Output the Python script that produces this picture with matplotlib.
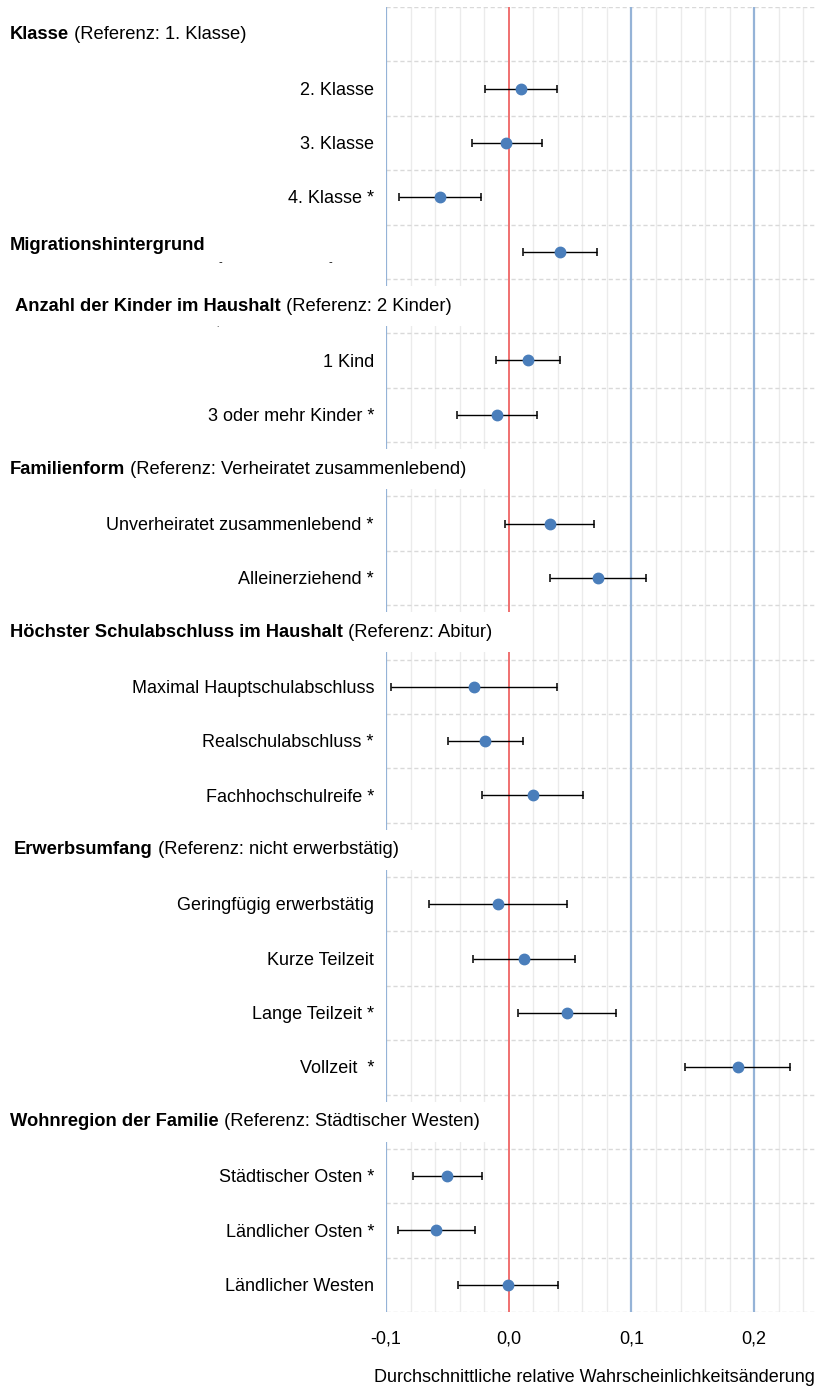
import numpy as np
import matplotlib.pyplot as plt
from matplotlib.patches import Rectangle
from matplotlib import transforms

plt.rcParams['font.family'] = ['Liberation Sans', 'DejaVu Sans']
plt.rcParams['font.size'] = 13

# Row labels (None = header row without own label text on the right)
labels = [None, "2. Klasse", "3. Klasse", "4. Klasse *", None,
          None, "1 Kind", "3 oder mehr Kinder *",
          None, "Unverheiratet zusammenlebend *", "Alleinerziehend *",
          None, "Maximal Hauptschulabschluss", "Realschulabschluss *", "Fachhochschulreife *",
          None, "Geringfügig erwerbstätig", "Kurze Teilzeit", "Lange Teilzeit *", "Vollzeit  *",
          None, "Städtischer Osten *", "Ländlicher Osten *", "Ländlicher Westen"]

nan = np.nan
estimate = [nan, 0.0098, -0.0021, -0.0556, 0.0416,
            nan, 0.0157, -0.0096,
            nan, 0.0333, 0.0727,
            nan, -0.0284, -0.0190, 0.0196,
            nan, -0.0085, 0.0124, 0.0474, 0.1868,
            nan, -0.0499, -0.0590, -0.0006]
lower = [nan, -0.0192, -0.0303, -0.0897, 0.0118,
         nan, -0.0102, -0.0424,
         nan, -0.0033, 0.0333,
         nan, -0.0959, -0.0493, -0.0220,
         nan, -0.0647, -0.0292, 0.0074, 0.1438,
         nan, -0.0782, -0.0901, -0.0416]
upper = [nan, 0.0393, 0.0269, -0.0226, 0.0716,
         nan, 0.0419, 0.0234,
         nan, 0.0697, 0.1118,
         nan, 0.0394, 0.0113, 0.0609,
         nan, 0.0479, 0.0537, 0.0873, 0.2292,
         nan, -0.0220, -0.0278, 0.0405]

# group headers: row, bold part, reference part
header_rows = [0, 4, 5, 8, 11, 15, 20]
header_bold = ["Klasse", "Migrationshintergrund", "Anzahl der Kinder im Haushalt",
               "Familienform", "Höchster Schulabschluss im Haushalt",
               "Erwerbsumfang", "Wohnregion der Familie"]
header_ref = [" (Referenz: 1. Klasse)", "", " (Referenz: 2 Kinder)",
              " (Referenz: Verheiratet zusammenlebend)", " (Referenz: Abitur)",
              " (Referenz: nicht erwerbstätig)", " (Referenz: Städtischer Westen)"]
header_x = [10, 10, 15, 10, 10, 14, 10]

major_ticks = [-0.1, 0.0, 0.1, 0.2]
blue_lines = [-0.1, 0.1, 0.2]

W, H = 816, 1395
fig = plt.figure(figsize=(W / 100, H / 100), dpi=100)
ax = fig.add_axes([386 / W, 1 - 1312 / H, (815.5 - 386) / W, (1312 - 7) / H])

n = len(labels)
y = np.arange(n) + 0.5
est = np.array(estimate)
lo = np.array(lower)
hi = np.array(upper)
ax.errorbar(est, y, xerr=[est - lo, hi - est], fmt='o', color='#4a7ebb',
            ms=7.5, ecolor='black', elinewidth=1.0, capsize=2.6, capthick=1.1,
            zorder=4)

for v in blue_lines:
    ax.axvline(v, color='#95b3d7', lw=1.6, zorder=1)
ax.axvline(0, color='#f07070', lw=1.4, zorder=1)

ax.set_xlim(-0.1, 0.25)
ax.set_ylim(n, 0)
ax.set_xticks(major_ticks)
ax.set_xticklabels([f"{v:.1f}".replace('.', ',') for v in major_ticks])
ax.set_xticks(np.arange(-0.08, 0.25, 0.02), minor=True)
ax.set_yticks(np.arange(n + 1))
ax.set_yticklabels([])
ax.tick_params(axis='both', which='both', length=0)
ax.tick_params(axis='x', pad=13, labelsize=13)
ax.set_axisbelow(True)
ax.grid(axis='x', which='minor', color='#ebebeb', lw=1, ls='-')
ax.grid(axis='y', which='major', color='#d9d9d9', lw=1, ls=(0, (3, 2)))
for s in ax.spines.values():
    s.set_visible(False)

trans = transforms.blended_transform_factory(fig.transFigure, ax.transData)
for i, lab in enumerate(labels):
    if lab is not None:
        ax.text(374 / W, i + 0.53, lab, transform=trans, ha='right', va='center', zorder=5)

fig.canvas.draw()
renderer = fig.canvas.get_renderer()
inv = ax.transData.inverted()
for r, b, ref, hx in zip(header_rows, header_bold, header_ref, header_x):
    yy = r + 0.5 if ref else r + 0.38
    tb = ax.text(hx / W, yy, b, transform=trans, ha='left', va='center',
                 fontweight='bold', fontsize=13.2, zorder=5)
    if ref:
        last = ax.annotate(ref, xy=(1, 0), xycoords=tb, ha='left', va='bottom',
                           fontsize=13.2, zorder=5)
        fig.canvas.draw()
        bb = last.get_window_extent(renderer)
        x_end = inv.transform((bb.x1 + 24, 0))[0]
        ax.add_patch(Rectangle((-0.2, r + 0.13), x_end + 0.2, 0.74,
                               facecolor='white', edgecolor='none',
                               zorder=2, clip_on=False))

# small leftover marks beneath the migration header
ax.text(220 / W, 4.7, "-", transform=trans, ha='center', va='center', fontsize=8)
ax.text(330 / W, 4.7, "-", transform=trans, ha='center', va='center', fontsize=8)
ax.text(217 / W, 5.85, ".", transform=trans, ha='center', va='center', fontsize=6)

fig.text(815 / W, 1 - 1378 / H, "Durchschnittliche relative Wahrscheinlichkeitsänderung",
         ha='right', va='center', fontsize=13)

fig.savefig("out.png", dpi=100, facecolor='white')
